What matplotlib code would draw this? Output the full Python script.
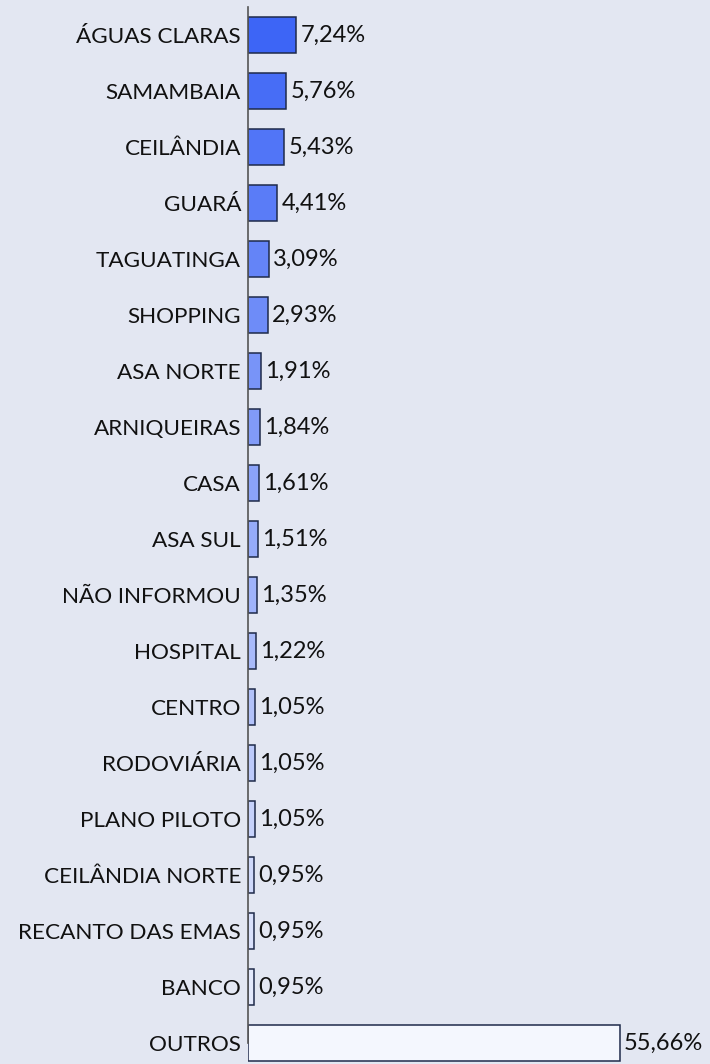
import numpy as np
import matplotlib
matplotlib.use("Agg")
import matplotlib.pyplot as plt
from matplotlib.colors import LinearSegmentedColormap

plt.rcParams['font.family'] = ['Lato', 'DejaVu Sans']

labels = ['ÁGUAS CLARAS', 'SAMAMBAIA', 'CEILÂNDIA', 'GUARÁ', 'TAGUATINGA', 'SHOPPING',
          'ASA NORTE', 'ARNIQUEIRAS', 'CASA', 'ASA SUL', 'NÃO INFORMOU', 'HOSPITAL',
          'CENTRO', 'RODOVIÁRIA', 'PLANO PILOTO', 'CEILÂNDIA NORTE', 'RECANTO DAS EMAS',
          'BANCO', 'OUTROS']
values = [7.24, 5.76, 5.43, 4.41, 3.09, 2.93, 1.91, 1.84, 1.61, 1.51, 1.35, 1.22,
          1.05, 1.05, 1.05, 0.95, 0.95, 0.95, 55.66]

bg = '#E3E7F2'
cmap = LinearSegmentedColormap.from_list('blues', ['#E3E9FC', '#3D65F6'])

fig = plt.figure(figsize=(7.1, 10.64), dpi=100, facecolor=bg)
ax = fig.add_axes([248 / 710, 0, 462 / 710, 1057 / 1064])
ax.set_facecolor(bg)

y = np.arange(len(values))
n = len(values) - 1
colors = [cmap(1 - i / (n - 1)) for i in range(n)] + ['#F4F7FE']
ax.barh(y, values, height=0.64, color=colors, edgecolor='#1E2A4A', linewidth=1.1)

for yi, v in zip(y, values):
    ax.text(v + 0.6, yi, f'{v:.2f}%'.replace('.', ','), va='center', ha='left',
            fontsize=17, color='#111111')

ax.set_xlim(0, 462 / 6.68)
ax.set_ylim(18 + 21 / 56, -0.5)
ax.set_yticks(y)
ax.set_yticklabels(labels, fontsize=16.2, color='#111111')
ax.tick_params(axis='y', length=0, pad=5)
ax.set_xticks([])
for s in ['top', 'right', 'bottom']:
    ax.spines[s].set_visible(False)
ax.spines['left'].set_color('#555555')
ax.spines['left'].set_linewidth(1.2)
ax.spines['left'].set_bounds(-0.5, 18)

fig.savefig('out.png', dpi=100, facecolor=bg)
